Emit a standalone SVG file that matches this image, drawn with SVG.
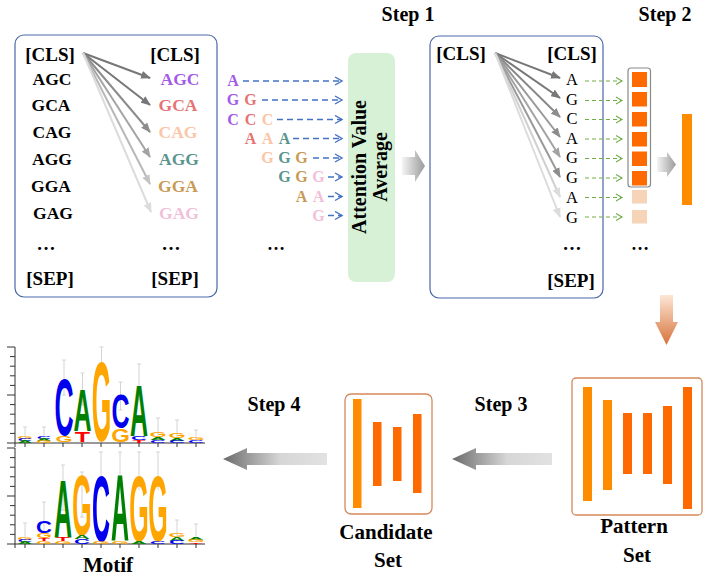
<svg xmlns="http://www.w3.org/2000/svg" width="707" height="577" viewBox="0 0 707 577">
<style>
.tb{font-family:"Liberation Serif","Times New Roman",serif;font-weight:bold;fill:#000}
.tr{font-family:"Liberation Serif","Times New Roman",serif;fill:#000}
.lg{font-family:"Liberation Sans",Arial,sans-serif;font-weight:bold;font-size:10px;text-anchor:middle}
.box{fill:#fff;stroke:#4a68a8;stroke-width:1.2}
.ga{fill:none;stroke-width:2}
.bd{fill:none;stroke:#4472c4;stroke-width:1.4;stroke-dasharray:6 4}
.gd{fill:none;stroke:#70ad47;stroke-width:1.1;stroke-dasharray:4 3}
.eb{stroke:#d4d4d4;stroke-width:1;fill:none}
.ax{stroke:#333;stroke-width:1;fill:none}
.cb{fill:#0000ee}.cg{fill:#008000}.co{fill:#ffa500}.cr{fill:#ff0000}
.o1{fill:#ff8c00}.o2{fill:#ff6a00}
</style>
<defs>
<marker id="m1" markerUnits="userSpaceOnUse" markerWidth="10" markerHeight="8" refX="9" refY="4" orient="auto"><path d="M0,0 L10,4 L0,8 Z" fill="#777"/></marker>
<marker id="m2" markerUnits="userSpaceOnUse" markerWidth="10" markerHeight="8" refX="9" refY="4" orient="auto"><path d="M0,0 L10,4 L0,8 Z" fill="#8c8c8c"/></marker>
<marker id="m3" markerUnits="userSpaceOnUse" markerWidth="10" markerHeight="8" refX="9" refY="4" orient="auto"><path d="M0,0 L10,4 L0,8 Z" fill="#a3a3a3"/></marker>
<marker id="m4" markerUnits="userSpaceOnUse" markerWidth="10" markerHeight="8" refX="9" refY="4" orient="auto"><path d="M0,0 L10,4 L0,8 Z" fill="#c4c4c4"/></marker>
<marker id="m5" markerUnits="userSpaceOnUse" markerWidth="10" markerHeight="8" refX="9" refY="4" orient="auto"><path d="M0,0 L10,4 L0,8 Z" fill="#dcdcdc"/></marker>
<marker id="mb" markerUnits="userSpaceOnUse" markerWidth="10" markerHeight="10" refX="8" refY="5" orient="auto"><path d="M1,1 L8,5 L1,9" fill="none" stroke="#4472c4" stroke-width="1.4"/></marker>
<marker id="mg" markerUnits="userSpaceOnUse" markerWidth="10" markerHeight="10" refX="8" refY="5" orient="auto"><path d="M2,1.5 L8,5 L2,8.5" fill="none" stroke="#70ad47" stroke-width="1.1"/></marker>
<linearGradient id="gR" x1="0" y1="0" x2="1" y2="0"><stop offset="0" stop-color="#f4f4f4"/><stop offset="1" stop-color="#9a9a9a"/></linearGradient>
<linearGradient id="gL" x1="0" y1="0" x2="1" y2="0"><stop offset="0" stop-color="#6a6a6a"/><stop offset="0.55" stop-color="#d6d6d6"/><stop offset="1" stop-color="#e2e2e2"/></linearGradient>
<linearGradient id="gD" x1="0" y1="0" x2="0" y2="1"><stop offset="0" stop-color="#fde6d6"/><stop offset="1" stop-color="#d6733a"/></linearGradient>
</defs>

<!-- Step labels -->
<g id="labels" class="tb" font-size="20" text-anchor="middle">
<text x="408" y="21">Step 1</text>
<text x="665" y="21">Step 2</text>
<text x="501" y="411">Step 3</text>
<text x="274" y="411">Step 4</text>
</g>

<!-- Left box -->
<g id="left-box">
<rect class="box" x="15" y="35" width="202" height="262" rx="9"/>
<g class="tb" font-size="19" text-anchor="middle">
<text x="50" y="61">[CLS]</text><text x="175" y="61">[CLS]</text>
<text x="50" y="285">[SEP]</text><text x="175" y="285">[SEP]</text>
<text x="46" y="250">…</text><text x="171" y="250">…</text>
</g>
<g class="tb" font-size="17.5" text-anchor="middle">
<text x="52" y="85">AGC</text><text x="51" y="111">GCA</text><text x="52" y="138">CAG</text>
<text x="52" y="165">AGG</text><text x="51" y="192">GGA</text><text x="53" y="219">GAG</text>
<text x="180" y="85" fill="#a35be8">AGC</text><text x="178" y="111" fill="#e77475">GCA</text><text x="178" y="138" fill="#fcc5a6">CAG</text>
<text x="179" y="165" fill="#5b958e">AGG</text><text x="178" y="192" fill="#c99a55">GGA</text><text x="179" y="219" fill="#f2bfd9">GAG</text>
</g>
</g>

<!-- Middle cascade -->
<g id="cascade" class="tb" font-size="16" text-anchor="middle">
<text x="233" y="86" fill="#a35be8">A</text>
<text x="233" y="105" fill="#a35be8">G</text><text x="250.5" y="105" fill="#e77475">G</text>
<text x="233" y="124.5" fill="#a35be8">C</text><text x="250.5" y="124.5" fill="#e77475">C</text><text x="267.5" y="124.5" fill="#fcc5a6">C</text>
<text x="250.5" y="143.5" fill="#e77475">A</text><text x="267.5" y="143.5" fill="#fcc5a6">A</text><text x="284.5" y="143.5" fill="#5b958e">A</text>
<text x="267.5" y="163" fill="#fcc5a6">G</text><text x="284.5" y="163" fill="#5b958e">G</text><text x="301.5" y="163" fill="#c99a55">G</text>
<text x="284.5" y="182" fill="#5b958e">G</text><text x="301.5" y="182" fill="#c99a55">G</text><text x="318.5" y="182" fill="#f2bfd9">G</text>
<text x="301.5" y="201.5" fill="#c99a55">A</text><text x="318.5" y="201.5" fill="#f2bfd9">A</text>
<text x="318.5" y="220.5" fill="#f2bfd9">G</text>
<text x="276" y="250" font-size="18">…</text>
</g>

<!-- Attention value average -->
<g id="attention">
<rect x="348" y="53" width="47" height="229" rx="8" fill="#d6f1d6"/>
<text class="tb" font-size="20" text-anchor="middle" transform="translate(366,167) rotate(-90)">Attention Value</text>
<text class="tb" font-size="20" text-anchor="middle" transform="translate(387,167) rotate(-90)">Average</text>
</g>

<!-- Right box -->
<g id="right-box">
<rect class="box" x="430" y="36" width="173" height="262" rx="9"/>
<g class="tb" font-size="19" text-anchor="middle">
<text x="461" y="60">[CLS]</text><text x="572" y="60">[CLS]</text>
<text x="571" y="287">[SEP]</text>
<text x="572" y="250">…</text>
</g>
<g class="tr" font-size="16.5" text-anchor="middle">
<text x="572" y="85">A</text><text x="572" y="104.5">G</text><text x="572" y="124">C</text><text x="572" y="143.5">A</text>
<text x="572" y="163">G</text><text x="572" y="183">G</text><text x="572" y="203">A</text><text x="572" y="222.5">G</text>
</g>
</g>

<!-- Scores -->
<g id="scores">
<rect x="628" y="68" width="22.5" height="119" rx="3" fill="none" stroke="#8a8a8a" stroke-width="1.2"/>
<rect class="o2" x="632" y="72" width="15" height="15"/>
<rect class="o2" x="632" y="92" width="15" height="14.5"/>
<rect class="o2" x="632" y="112" width="15" height="14.5"/>
<rect class="o2" x="632" y="132" width="15" height="14.5"/>
<rect class="o2" x="632" y="151.5" width="15" height="14.5"/>
<rect class="o2" x="632" y="171" width="15" height="14.5"/>
<rect x="632" y="190" width="15" height="13.5" fill="#f6d4b8"/>
<rect x="632" y="210" width="15" height="13.5" fill="#f6d4b8"/>
<text class="tb" font-size="18" x="640" y="250" text-anchor="middle">…</text>
<rect class="o1" x="682" y="114" width="10" height="91"/>
</g>

<!-- Pattern set -->
<g id="pattern-set">
<rect x="572" y="378" width="130" height="137" rx="4" fill="#fff" stroke="#d6895a" stroke-width="1.3"/>
<rect class="o1" x="583" y="387" width="9" height="114"/>
<rect class="o1" x="603" y="400" width="9" height="90"/>
<rect class="o2" x="623" y="413" width="9" height="61"/>
<rect class="o2" x="643" y="413" width="9" height="61"/>
<rect class="o2" x="663" y="406" width="9" height="78"/>
<rect class="o2" x="683" y="387" width="9" height="122"/>
<text class="tb" font-size="21" x="634" y="533" text-anchor="middle">Pattern</text>
<text class="tb" font-size="21" x="637" y="562" text-anchor="middle">Set</text>
</g>

<!-- Candidate set -->
<g id="candidate-set">
<rect x="345" y="394" width="87" height="120" rx="6" fill="#fff" stroke="#d6895a" stroke-width="1.3"/>
<rect class="o1" x="353" y="399" width="8.5" height="109"/>
<rect class="o2" x="373" y="422" width="8.5" height="64"/>
<rect class="o2" x="393" y="427" width="8.5" height="54"/>
<rect class="o2" x="413" y="414" width="8.5" height="79"/>
<text class="tb" font-size="21" x="386" y="539" text-anchor="middle">Candidate</text>
<text class="tb" font-size="21" x="388" y="567" text-anchor="middle">Set</text>
</g>

<!-- Motif logos -->
<g id="motif">
<g class="ax">
<path d="M15,347 V443 H205"/>
<path d="M7,347 H15 M10,356.6 H15 M10,366.2 H15 M10,375.8 H15 M10,385.4 H15 M7,395 H15 M10,404.6 H15 M10,414.2 H15 M10,423.8 H15 M10,433.4 H15 M7,443 H15"/>
<path d="M15,443 V447 M25,443 V447 M44,443 V447 M63,443 V447 M82,443 V447 M101,443 V447 M120,443 V447 M139,443 V447 M158,443 V447 M177,443 V447 M196,443 V447"/>
<path d="M15,448 V544 H205"/>
<path d="M7,448 H15 M10,457.6 H15 M10,467.2 H15 M10,476.8 H15 M10,486.4 H15 M7,496 H15 M10,505.6 H15 M10,515.2 H15 M10,524.8 H15 M10,534.4 H15 M7,544 H15"/>
<path d="M15,544 V548 M25,544 V548 M44,544 V548 M63,544 V548 M82,544 V548 M101,544 V548 M120,544 V548 M139,544 V548 M158,544 V548 M177,544 V548 M196,544 V548"/>
</g>
<g class="eb">
<path d="M25,427 V440 M23,427 H27 M44,427 V440 M42,427 H46 M64,360 V395 M62,360 H66 M62,395 H66 M82.5,373 V405 M80.5,373 H84.5 M80.5,405 H84.5 M101.5,347 V370 M99.5,347 H103.5 M120.5,382 V410 M118.5,382 H122.5 M118.5,410 H122.5 M139,364 V400 M137,364 H141 M137,400 H141 M158,418 V440 M156,418 H160 M177,420 V440 M175,420 H179 M196,430 V441 M194,430 H198"/>
<path d="M25,523 V542 M23,523 H27 M44,502 V535 M42,502 H46 M63,465 V510 M61,465 H65 M61,510 H65 M82,472 V517 M80,472 H84 M80,517 H84 M101,452 V490 M99,452 H103 M120,452 V490 M118,452 H122 M139,452 V490 M137,452 H141 M158,452 V490 M156,452 H160 M177,520 V542 M175,520 H179 M196,524 V542 M194,524 H198"/>
</g>
<!-- top logo -->
<text class="lg co" transform="translate(25,438.5) scale(2,0.35)">G</text>
<text class="lg cb" transform="translate(25,440.5) scale(2,0.28)">C</text>
<text class="lg cg" transform="translate(25,442.5) scale(2,0.28)">A</text>
<text class="lg cb" transform="translate(44,438.5) scale(2,0.35)">C</text>
<text class="lg cg" transform="translate(44,440.5) scale(2,0.28)">A</text>
<text class="lg co" transform="translate(44,442.5) scale(2,0.28)">G</text>
<text class="lg cb" transform="translate(64,434.5) scale(2.65,8.0)">C</text>
<text class="lg co" transform="translate(64,442) scale(2.2,0.83)">G</text>
<text class="lg cg" transform="translate(82.5,431) scale(2.5,5.97)">A</text>
<text class="lg cr" transform="translate(82.5,442) scale(2.5,1.53)">T</text>
<text class="lg co" transform="translate(101.5,440.5) scale(2.5,11.3)">G</text>
<text class="lg cb" transform="translate(120.5,428) scale(2.5,4.8)">C</text>
<text class="lg co" transform="translate(120.5,442) scale(2.4,1.75)">G</text>
<text class="lg cg" transform="translate(139,436) scale(2.5,7.2)">A</text>
<text class="lg cb" transform="translate(139,439.5) scale(2.2,0.45)">C</text>
<text class="lg cr" transform="translate(139,442.5) scale(2.2,0.35)">T</text>
<text class="lg co" transform="translate(158,437) scale(2.2,0.7)">G</text>
<text class="lg cg" transform="translate(158,440) scale(2.2,0.42)">A</text>
<text class="lg cb" transform="translate(158,442.5) scale(2.2,0.35)">C</text>
<text class="lg co" transform="translate(177,437.5) scale(2.2,0.65)">G</text>
<text class="lg cg" transform="translate(177,440.5) scale(2.2,0.42)">A</text>
<text class="lg cb" transform="translate(177,442.5) scale(2.2,0.3)">C</text>
<text class="lg co" transform="translate(196,440) scale(2.2,0.35)">G</text>
<text class="lg cb" transform="translate(196,442.5) scale(2.2,0.3)">C</text>
<!-- bottom logo -->
<text class="lg co" transform="translate(25,539.5) scale(2,0.35)">G</text>
<text class="lg cb" transform="translate(25,541.5) scale(2,0.28)">C</text>
<text class="lg cg" transform="translate(25,543.5) scale(2,0.28)">A</text>
<text class="lg cb" transform="translate(44,533) scale(2.2,1.67)">C</text>
<text class="lg co" transform="translate(44,538) scale(2,0.7)">G</text>
<text class="lg cr" transform="translate(44,541) scale(2,0.4)">T</text>
<text class="lg co" transform="translate(44,543.5) scale(2,0.35)">G</text>
<text class="lg cg" transform="translate(63,537) scale(2.5,8.2)">A</text>
<text class="lg cr" transform="translate(63,541) scale(2.2,0.56)">T</text>
<text class="lg co" transform="translate(63,543.5) scale(2.2,0.35)">G</text>
<text class="lg co" transform="translate(82,535) scale(2.5,8.6)">G</text>
<text class="lg cg" transform="translate(82,539) scale(2.2,0.56)">A</text>
<text class="lg cb" transform="translate(82,543.5) scale(2.2,0.63)">C</text>
<text class="lg cb" transform="translate(101,540.5) scale(2.5,9.3)">C</text>
<text class="lg co" transform="translate(101,543.5) scale(2.2,0.4)">G</text>
<text class="lg cg" transform="translate(120,541) scale(2.5,9.4)">A</text>
<text class="lg co" transform="translate(120,543.5) scale(2.2,0.4)">G</text>
<text class="lg co" transform="translate(139,540.5) scale(2.5,9.3)">G</text>
<text class="lg cg" transform="translate(139,543.5) scale(2.2,0.4)">A</text>
<text class="lg co" transform="translate(158,540.5) scale(2.5,9.3)">G</text>
<text class="lg cb" transform="translate(158,543.5) scale(2.2,0.4)">C</text>
<text class="lg co" transform="translate(177,537) scale(2.2,0.6)">G</text>
<text class="lg cg" transform="translate(177,540.5) scale(2.2,0.48)">A</text>
<text class="lg cb" transform="translate(177,543.5) scale(2.2,0.45)">C</text>
<text class="lg cg" transform="translate(196,540) scale(2.2,0.4)">A</text>
<text class="lg co" transform="translate(196,542) scale(2.2,0.28)">G</text>
<text class="lg cr" transform="translate(196,543.8) scale(2.2,0.25)">T</text>
<text class="tb" font-size="21" x="108" y="572" text-anchor="middle">Motif</text>
</g>

<!-- Connectors -->
<g id="connectors">
<path class="ga" stroke="#777" marker-end="url(#m1)" d="M83,53 L150,78"/>
<path class="ga" stroke="#777" marker-end="url(#m1)" d="M83,53 L150,105"/>
<path class="ga" stroke="#8c8c8c" marker-end="url(#m2)" d="M83,53 L150,132"/>
<path class="ga" stroke="#a3a3a3" marker-end="url(#m3)" d="M83,53 L150,157"/>
<path class="ga" stroke="#b8b8b8" marker-end="url(#m4)" d="M83,53 L150,184"/>
<path class="ga" stroke="#dcdcdc" marker-end="url(#m5)" d="M83,53 L151,212"/>

<path class="bd" marker-end="url(#mb)" d="M243,81 H342"/>
<path class="bd" marker-end="url(#mb)" d="M262,100 H342"/>
<path class="bd" marker-end="url(#mb)" d="M277,119.5 H342"/>
<path class="bd" marker-end="url(#mb)" d="M293,138.5 H342"/>
<path class="bd" marker-end="url(#mb)" d="M313,158 H342"/>
<path class="bd" marker-end="url(#mb)" d="M328,177 H342"/>
<path class="bd" marker-end="url(#mb)" d="M328,196.5 H342"/>
<path class="bd" marker-end="url(#mb)" d="M328,215.5 H342"/>

<path d="M402,157 H415 V150 L425,166 L415,182 V175 H402 Z" fill="url(#gR)"/>

<path class="ga" stroke="#777" marker-end="url(#m1)" d="M495,53 L560,78"/>
<path class="ga" stroke="#777" marker-end="url(#m1)" d="M495,53 L560,98"/>
<path class="ga" stroke="#888" marker-end="url(#m2)" d="M495,53 L560,117"/>
<path class="ga" stroke="#999" marker-end="url(#m2)" d="M495,53 L560,137"/>
<path class="ga" stroke="#a3a3a3" marker-end="url(#m3)" d="M495,53 L560,157"/>
<path class="ga" stroke="#999" marker-end="url(#m2)" d="M495,53 L560,177"/>
<path class="ga" stroke="#d0d0d0" marker-end="url(#m5)" d="M495,53 L560,197"/>
<path class="ga" stroke="#dcdcdc" marker-end="url(#m5)" d="M495,53 L560,217"/>

<path class="gd" marker-end="url(#mg)" d="M585,81 H622"/>
<path class="gd" marker-end="url(#mg)" d="M585,100.5 H622"/>
<path class="gd" marker-end="url(#mg)" d="M585,119.5 H622"/>
<path class="gd" marker-end="url(#mg)" d="M585,139 H622"/>
<path class="gd" marker-end="url(#mg)" d="M585,158.5 H622"/>
<path class="gd" marker-end="url(#mg)" d="M585,178 H622"/>
<path class="gd" marker-end="url(#mg)" d="M585,197.5 H622"/>
<path class="gd" marker-end="url(#mg)" d="M585,217 H622"/>

<path d="M657,157 H667 V152 L676,164.5 L667,177 V172 H657 Z" fill="url(#gR)"/>
<path d="M660,295 H673 V322 H678 L666.5,345 L655,322 H660 Z" fill="url(#gD)"/>
<path d="M552,453 H476 V448 L452,459 L476,470 V465 H552 Z" fill="url(#gL)"/>
<path d="M327,453 H247 V448 L223,459 L247,470 V465 H327 Z" fill="url(#gL)"/>
</g>
</svg>
